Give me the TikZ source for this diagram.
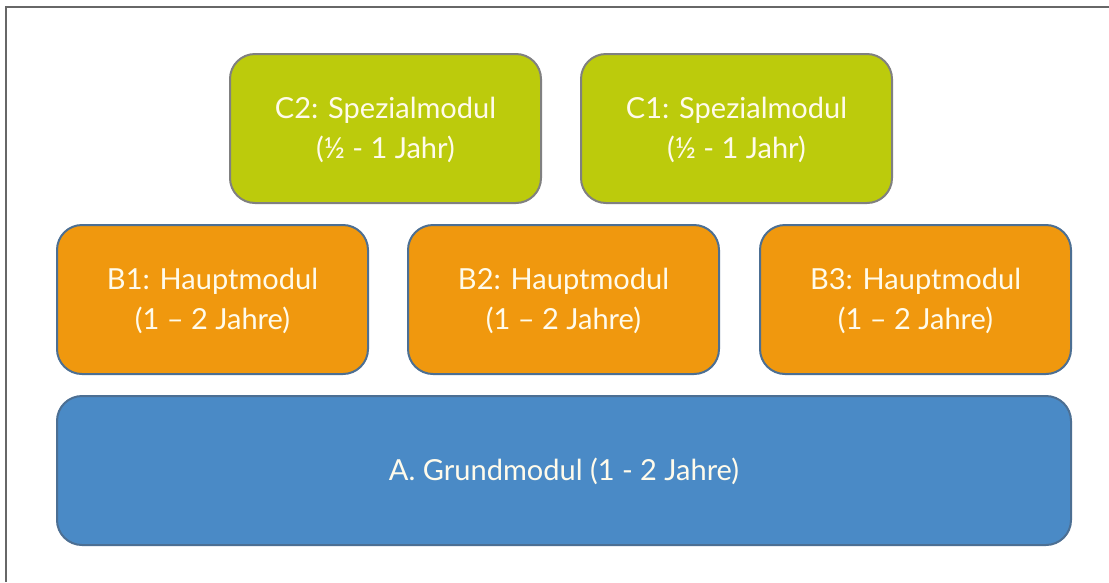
\documentclass[tikz,border=0pt]{standalone}
\usepackage{fontspec}
\setmainfont{Lato}
\definecolor{cgreen}{HTML}{BCCB0C}
\definecolor{corange}{HTML}{F0980E}
\definecolor{cblue}{HTML}{4A8AC6}
\definecolor{gborder}{HTML}{808080}
\definecolor{bborder}{HTML}{4C6F93}
\definecolor{txt}{HTML}{FFFBEB}
\begin{document}
\begin{tikzpicture}[x=1pt,y=-1pt,
  modbox/.style={rounded corners=25pt, line width=2pt},
  lbl/.style={text=txt, font=\fontsize{29}{40}\selectfont, align=center}]
\useasboundingbox (0,0) rectangle (1109,582);
\fill[white] (0,0) rectangle (1109,582);
\draw[gborder!80!black, line width=1.5pt] (6,582) -- (6,7) -- (1109,7);
% C row
\draw[modbox, fill=cgreen, draw=gborder] (230,54) rectangle (541,203);
\node[lbl] (c2) at (385.5,130) {C2: Spezialmodul\\(½ - 1 Jahr)};
\draw[modbox, fill=cgreen, draw=gborder] (581,54) rectangle (892,203);
\node[lbl] (c1) at (736.5,130) {C1: Spezialmodul\\(½ - 1 Jahr)};
% B row
\draw[modbox, fill=corange, draw=bborder] (57,225) rectangle (368,374);
\node[lbl] (b1) at (212.5,301) {B1: Hauptmodul\\(1 – 2 Jahre)};
\draw[modbox, fill=corange, draw=bborder] (408,225) rectangle (719,374);
\node[lbl] (b2) at (563.5,301) {B2: Hauptmodul\\(1 – 2 Jahre)};
\draw[modbox, fill=corange, draw=bborder] (760,225) rectangle (1071,374);
\node[lbl] (b3) at (915.5,301) {B3: Hauptmodul\\(1 – 2 Jahre)};
% A row
\draw[modbox, fill=cblue, draw=bborder] (57,396) rectangle (1071,545);
\node[lbl] (a) at (564,471) {A. Grundmodul (1 - 2 Jahre)};
\end{tikzpicture}
\end{document}
